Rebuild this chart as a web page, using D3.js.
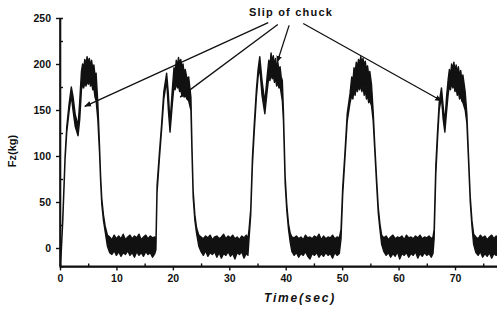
<!DOCTYPE html>
<html>
<head>
<meta charset="utf-8">
<script src="https://cdn.jsdelivr.net/npm/d3@7"></script>
<style>
  body { margin: 0; background: #fff; }
  svg { display: block; }
  text { font-family: "Liberation Sans", Arial, sans-serif; font-weight: bold; fill: #111; }
</style>
</head>
<body>
<div id="chart"></div>
<script>

// axis ticks
var xMajor = [0, 10, 20, 30, 40, 50, 60, 70];
var xMinor = [5, 15, 25, 35, 45, 55, 65, 75];
var yMajor = [0, 50, 100, 150, 200, 250];
var yMinor = [25, 75, 125, 175, 225];

// Fz trace: [time (sec), lower edge (kg), upper edge (kg)]
// the noisy parts are kept as a band between the two edges
var trace = [
  // cycle 1
  [0.1, -20, -20], [0.5, 30, 34], [0.9, 96, 100], [1.2, 126, 132], [1.6, 148, 156], [2.0, 166, 175],
  [2.3, 150, 165], [2.7, 132, 145], [3.0, 126, 138], [3.2, 122, 132], [3.5, 140, 160], [3.8, 172, 192],
  [4.0, 178, 200], [4.2, 174, 196], [4.4, 180, 205], [4.6, 176, 199], [4.8, 182, 208], [5.0, 178, 201],
  [5.2, 183, 206], [5.4, 176, 198], [5.6, 180, 204], [5.8, 172, 195], [6.0, 174, 199], [6.2, 164, 188],
  [6.4, 160, 190], [6.7, 140, 158], [7.0, 104, 112], [7.2, 72, 78], [7.4, 48, 54],
  [7.7, 30, 36], [8.0, 18, 24], [8.4, 2, 14],
  [8.8, -5, 12], [9.2, -7, 9], [9.6, -3, 14], [10.0, -8, 10], [10.4, -4, 13], [10.8, -9, 10],
  [11.2, -5, 15], [11.6, -7, 9], [12.0, -3, 12], [12.4, -8, 14], [12.8, -5, 10], [13.2, -10, 13],
  [13.6, -4, 11], [14.0, -8, 15], [14.4, -5, 9], [14.8, -9, 12], [15.2, -4, 14], [15.6, -7, 10],
  [16.0, -5, 13], [16.4, -10, 11], [16.8, -6, 12],
  // cycle 2
  [17.0, -2, 6], [17.2, 60, 68], [17.6, 96, 102], [18.0, 128, 134], [18.4, 162, 170],
  [18.9, 182, 190], [19.2, 150, 168], [19.5, 126, 136], [19.9, 156, 172], [20.2, 176, 196],
  [20.4, 172, 190], [20.6, 180, 204], [20.8, 174, 198], [21.0, 176, 207], [21.2, 170, 200],
  [21.4, 172, 205], [21.6, 166, 196], [21.8, 168, 200], [22.0, 164, 190], [22.2, 166, 194],
  [22.5, 162, 184], [22.8, 160, 186], [23.2, 150, 164], [23.4, 100, 108], [23.6, 55, 62], [23.9, 30, 36],
  [24.2, 16, 22], [24.6, 2, 14],
  [25.0, -4, 12], [25.4, -8, 10], [25.8, -3, 13], [26.2, -9, 11], [26.6, -5, 14], [27.0, -7, 9],
  [27.4, -4, 12], [27.8, -10, 13], [28.2, -5, 10], [28.6, -11, 12], [29.0, -6, 15], [29.4, -8, 10],
  [29.8, -4, 13], [30.2, -9, 11], [30.6, -6, 14], [31.0, -12, 10], [31.4, -5, 12], [31.8, -7, 9],
  [32.2, -4, 13], [32.6, -11, 11], [33.0, -6, 14], [33.3, -8, 10],
  // cycle 3
  [33.5, 10, 20], [33.8, 36, 42], [34.1, 90, 98], [34.4, 124, 132], [34.8, 164, 172],
  [35.1, 186, 194], [35.4, 196, 208], [35.8, 166, 182], [36.3, 146, 158], [36.7, 170, 186],
  [37.0, 186, 204], [37.2, 182, 198], [37.4, 190, 212], [37.6, 184, 202], [37.8, 188, 209],
  [38.0, 180, 198], [38.2, 184, 206], [38.4, 176, 196], [38.6, 180, 202], [38.8, 174, 192],
  [39.0, 176, 197], [39.2, 168, 186], [39.4, 160, 182], [39.6, 138, 148], [39.9, 70, 78], [40.2, 40, 46],
  [40.5, 20, 26], [40.8, 6, 16],
  [41.1, -4, 12], [41.5, -8, 11], [41.9, -5, 13], [42.3, -10, 10], [42.7, -6, 12], [43.1, -8, 9],
  [43.5, -4, 14], [43.9, -9, 11], [44.3, -12, 12], [44.7, -6, 10], [45.1, -8, 13], [45.5, -5, 11],
  [45.9, -10, 15], [46.3, -6, 9], [46.7, -9, 13], [47.1, -5, 10], [47.5, -8, 12], [47.9, -6, 11],
  [48.3, -11, 14], [48.7, -5, 10], [49.1, -8, 12], [49.5, -6, 11],
  // cycle 4
  [49.8, 10, 20], [50.1, 58, 66], [50.5, 98, 104], [50.9, 138, 146], [51.4, 158, 168],
  [51.7, 166, 186], [51.9, 162, 180], [52.1, 172, 196], [52.3, 166, 190], [52.5, 175, 202],
  [52.7, 170, 196], [52.9, 176, 205], [53.1, 172, 200], [53.3, 178, 208], [53.5, 170, 201],
  [53.7, 176, 206], [53.9, 166, 198], [54.1, 172, 203], [54.3, 162, 194], [54.5, 166, 198],
  [54.7, 158, 188], [54.9, 160, 192], [55.2, 155, 178], [55.5, 138, 148],
  [55.8, 104, 110], [56.1, 70, 76], [56.4, 38, 44], [56.7, 20, 26], [57.0, 4, 14],
  [57.4, -4, 11], [57.8, -8, 13], [58.2, -5, 9], [58.6, -10, 12], [59.0, -6, 14], [59.4, -9, 10],
  [59.8, -4, 12], [60.2, -12, 11], [60.6, -6, 13], [61.0, -8, 9], [61.4, -5, 14], [61.8, -10, 11],
  [62.2, -6, 12], [62.6, -8, 10], [63.0, -4, 13], [63.4, -11, 11], [63.8, -6, 14], [64.2, -9, 10],
  [64.6, -5, 12], [65.0, -8, 11], [65.4, -6, 13], [65.8, -10, 10], [66.1, -6, 12],
  // cycle 5
  [66.3, 10, 20], [66.6, 80, 90], [66.9, 118, 126], [67.2, 150, 158], [67.6, 164, 174],
  [67.9, 140, 154], [68.2, 126, 136], [68.5, 148, 164], [68.8, 168, 184], [69.0, 176, 194],
  [69.2, 172, 188], [69.4, 180, 200], [69.6, 174, 194], [69.8, 178, 202], [70.0, 170, 192],
  [70.2, 174, 199], [70.4, 166, 190], [70.6, 170, 197], [70.8, 162, 186], [71.0, 166, 193],
  [71.2, 160, 184], [71.4, 158, 188], [71.8, 150, 170], [72.1, 136, 146], [72.4, 94, 100],
  [72.7, 50, 56], [73.0, 24, 30], [73.3, 4, 15],
  [73.7, -5, 12], [74.1, -8, 10], [74.5, -4, 14], [74.9, -10, 11], [75.3, -6, 13], [75.7, -9, 9],
  [76.1, -5, 12], [76.5, -11, 14], [76.9, -6, 10], [77.3, -8, 13], [77.7, -5, 11], [78.1, -9, 12]
];

// annotation: arrows from the label down to the slips, [time, kg]
var slipLabel = "Slip of chuck";
var arrowFrom = [[36.9, 245], [38.6, 243], [40.6, 242], [43.1, 244]];
var arrowTo = [[4.4, 154], [21.3, 164], [38.5, 202], [67.6, 160]];

var W = 497, H = 309;
var x = d3.scaleLinear().domain([0, 80]).range([60, 60 + 80 * 5.643]);
var y = d3.scaleLinear().domain([-20, 250]).range([266.4, 18]);

var svg = d3.select("#chart").append("svg")
    .attr("width", W)
    .attr("height", H);

svg.append("defs").append("marker")
    .attr("id", "head")
    .attr("viewBox", "0 0 10 10")
    .attr("refX", 9).attr("refY", 5)
    .attr("markerWidth", 7).attr("markerHeight", 7)
    .attr("markerUnits", "userSpaceOnUse")
    .attr("orient", "auto")
  .append("path")
    .attr("d", "M0,1 L10,5 L0,9 Z")
    .attr("fill", "#111");

// trace band
var band = d3.area()
    .x(function(d) { return x(d[0]); })
    .y0(function(d) { return y(d[1]); })
    .y1(function(d) { return y(d[2]); });

svg.append("path")
    .datum(trace)
    .attr("d", band)
    .attr("fill", "#111")
    .attr("stroke", "#111")
    .attr("stroke-width", 1.4)
    .attr("stroke-linejoin", "round");

// axes
var gx = svg.append("g").attr("transform", "translate(0," + y(-20) + ")");
gx.call(d3.axisBottom(x).tickValues(xMajor).tickSize(4).tickPadding(4).tickFormat(d3.format("d")));
var gxm = svg.append("g").attr("transform", "translate(0," + y(-20) + ")");
gxm.call(d3.axisBottom(x).tickValues(xMinor).tickSize(-3).tickFormat(""));

var gy = svg.append("g").attr("transform", "translate(" + x(0) + ",0)");
gy.call(d3.axisLeft(y).tickValues(yMajor).tickSize(4).tickPadding(5).tickFormat(d3.format("d")));
var gym = svg.append("g").attr("transform", "translate(" + x(0) + ",0)");
gym.call(d3.axisLeft(y).tickValues(yMinor).tickSize(-3).tickFormat(""));

svg.selectAll(".domain").attr("stroke", "#111").attr("stroke-width", 1.6);
svg.selectAll(".tick line").attr("stroke", "#111").attr("stroke-width", 1.4);
svg.selectAll(".tick text")
    .style("font-family", "'Liberation Sans', Arial, sans-serif")
    .style("font-weight", "bold")
    .style("font-size", "10.5px")
    .attr("fill", "#111");
gy.selectAll(".domain").attr("d", "M0," + y(250) + "V" + y(-20));
gx.selectAll(".domain").attr("d", "M" + x(0) + ",0H" + W);

// axis titles
svg.append("text")
    .attr("transform", "translate(16,151) rotate(-90)")
    .attr("text-anchor", "middle")
    .style("font-size", "11px")
    .text("Fz(kg)");

svg.append("text")
    .attr("x", 300).attr("y", 302)
    .attr("text-anchor", "middle")
    .style("font-size", "12px")
    .style("font-style", "italic")
    .style("letter-spacing", "1.8px")
    .text("Time(sec)");

// annotation
svg.append("text")
    .attr("x", 291).attr("y", 16)
    .attr("text-anchor", "middle")
    .style("font-size", "11px")
    .style("letter-spacing", "1.2px")
    .text(slipLabel);

svg.selectAll(".arrow")
    .data(arrowTo)
    .enter().append("line")
    .attr("class", "arrow")
    .attr("x1", function(d, i) { return x(arrowFrom[i][0]); })
    .attr("y1", function(d, i) { return y(arrowFrom[i][1]); })
    .attr("x2", function(d) { return x(d[0]); })
    .attr("y2", function(d) { return y(d[1]); })
    .attr("stroke", "#111")
    .attr("stroke-width", 1.3)
    .attr("marker-end", "url(#head)");

</script>
</body>
</html>
